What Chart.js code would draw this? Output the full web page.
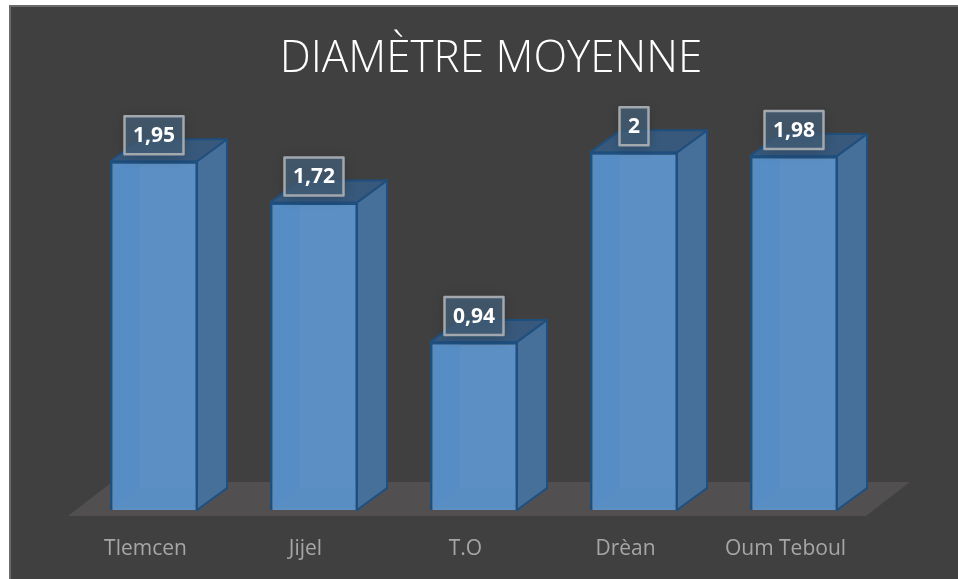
<!DOCTYPE html>
<html lang="fr">
<head>
    <meta charset="UTF-8">
    <title>Diamètre moyenne</title>
    <script src="https://cdn.jsdelivr.net/npm/chart.js"></script>
    <style>
        html, body { margin: 0; padding: 0; background: #fff; overflow: hidden; width: 958px; height: 579px; }
        #panel { position: absolute; left: 9px; top: 5px; width: 960px; height: 580px; background: #404040; border: 2px solid #6b6b6b; box-sizing: border-box; }
        #chart { position: absolute; left: 0; top: 0; }
    </style>
</head>
<body>
    <div id="panel"></div>
    <canvas id="chart" width="958" height="579"></canvas>
    <script>
        const categories = ['Tlemcen', 'Jijel', 'T.O', 'Drèan', 'Oum Teboul'];
        const diametres = [1.95, 1.72, 0.94, 2, 1.98];
        const titre = 'DIAMÈTRE MOYENNE';

        // profondeur de l'effet 3D, en pixels
        const DX = 30, DY = 22;

        function poly(ctx, pts, fill, stroke) {
            ctx.beginPath();
            pts.forEach((p, i) => i ? ctx.lineTo(p[0], p[1]) : ctx.moveTo(p[0], p[1]));
            ctx.closePath();
            ctx.fillStyle = fill;
            ctx.fill();
            if (stroke) {
                ctx.strokeStyle = stroke;
                ctx.lineWidth = 2;
                ctx.lineJoin = 'round';
                ctx.stroke();
            }
        }

        const cube3d = {
            id: 'cube3d',
            beforeDatasetsDraw(chart) {
                const ctx = chart.ctx, area = chart.chartArea;
                const y0 = chart.scales.y.getPixelForValue(0);
                // le sol
                poly(ctx, [
                    [area.left - 6, y0 + 6],
                    [area.right - 8, y0 + 6],
                    [area.right + 36, y0 - 28],
                    [area.left + 38, y0 - 28]
                ], '#514f4f');
                chart.getDatasetMeta(0).data.forEach(bar => {
                    const l = bar.x - bar.width / 2, r = bar.x + bar.width / 2 - 1;
                    poly(ctx, [[r, bar.y], [r + DX, bar.y - DY], [r + DX, bar.base - DY], [r, bar.base]], '#466f99', '#1f4f7e');
                    poly(ctx, [[l, bar.y], [l + DX, bar.y - DY], [r + DX, bar.y - DY], [r, bar.y]], '#38597c', '#1f4f7e');
                });
            },
            afterDatasetsDraw(chart) {
                const ctx = chart.ctx;
                chart.getDatasetMeta(0).data.forEach((bar, i) => {
                    const l = bar.x - bar.width / 2, r = bar.x + bar.width / 2;
                    // faces arriere vues a travers la face avant
                    poly(ctx, [[l + 2, bar.y + 2], [l + DX, bar.y + 2], [l + DX, bar.base - DY], [l + 2, bar.base - 2]], 'rgba(70,135,200,0.22)');
                    poly(ctx, [[l + DX, bar.base - DY], [r - 2, bar.base - DY], [r - 2, bar.base - 2], [l + 2, bar.base - 2]], 'rgba(70,135,200,0.10)');

                    const txt = String(diametres[i]).replace('.', ',');
                    ctx.save();
                    ctx.font = 'bold 21px "Open Sans", sans-serif';
                    const w = Math.round(ctx.measureText(txt).width) + 17;
                    const cy = bar.y - 26;
                    ctx.shadowColor = 'rgba(0,0,0,0.3)';
                    ctx.shadowBlur = 12;
                    ctx.shadowOffsetY = 2;
                    ctx.fillStyle = 'rgba(68,96,122,0.75)';
                    ctx.fillRect(bar.x - w / 2, cy - 19, w, 38);
                    ctx.shadowColor = 'transparent';
                    ctx.strokeStyle = '#a2a8ae';
                    ctx.lineWidth = 2.5;
                    ctx.strokeRect(bar.x - w / 2, cy - 19, w, 38);
                    ctx.fillStyle = '#ffffff';
                    ctx.textAlign = 'center';
                    ctx.textBaseline = 'middle';
                    ctx.fillText(txt, bar.x, cy + 1);
                    ctx.restore();
                });
            }
        };

        new Chart(document.getElementById('chart').getContext('2d'), {
            type: 'bar',
            data: {
                labels: categories,
                datasets: [{
                    data: diametres,
                    backgroundColor: '#5c8fc3',
                    borderColor: '#1f4f7e',
                    borderWidth: 2.5,
                    barPercentage: 1,
                    categoryPercentage: 0.55
                }]
            },
            options: {
                responsive: false,
                animation: false,
                layout: { padding: { left: 74, right: 50, top: 0, bottom: 0 } },
                plugins: {
                    legend: { display: false },
                    tooltip: { enabled: false },
                    title: {
                        display: true,
                        text: titre,
                        color: '#ffffff',
                        font: { family: '"Open Sans", sans-serif', size: 44, weight: '300', lineHeight: 1.2 },
                        padding: { top: 33, bottom: -5 }
                    }
                },
                scales: {
                    x: {
                        grid: { display: false },
                        border: { display: false },
                        afterFit(scale) { scale.height = 69; },
                        ticks: { color: '#a6a6a6', padding: 18, labelOffset: -8.5, font: { family: '"Open Sans", sans-serif', size: 21 }, maxRotation: 0 }
                    },
                    // axe cache a droite : il recentre le titre sans bouger les barres
                    y: {
                        position: 'right',
                        min: 0,
                        max: 2.4,
                        afterFit(scale) { scale.width = 34; },
                        grid: { display: false },
                        border: { display: false },
                        ticks: { display: false }
                    }
                }
            },
            plugins: [cube3d]
        });
    </script>
</body>
</html>
